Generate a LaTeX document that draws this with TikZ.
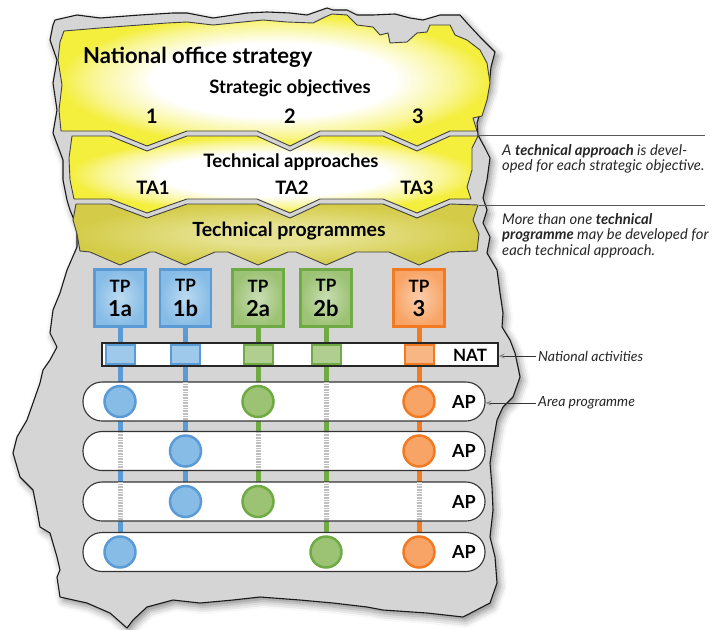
\documentclass[tikz,border=0pt]{standalone}
\usepackage{fontspec}
\setmainfont{Lato}
\usetikzlibrary{arrows.meta,shadows.blur}
\pgfdeclarelayer{back}\pgfdeclarelayer{mid}
\pgfsetlayers{back,mid,main}
\definecolor{yel}{HTML}{F4EE3C}
\definecolor{olivein}{HTML}{E6E291}
\definecolor{oliveout}{HTML}{D4CC48}
\definecolor{mapgray}{HTML}{D5D5D5}
\definecolor{bluef}{HTML}{86BCE6}
\definecolor{bluel}{HTML}{5B9BD5}
\definecolor{greenf}{HTML}{9CC274}
\definecolor{greenl}{HTML}{6FAA44}
\definecolor{orangef}{HTML}{F8A466}
\definecolor{orangel}{HTML}{F27A22}
\pgfdeclareradialshading{yglow}{\pgfpoint{0bp}{0bp}}{color(0bp)=(white); color(14bp)=(white); color(21bp)=(yel!55!white); color(25bp)=(yel); color(50bp)=(yel)}
\pgfdeclareradialshading{oglow}{\pgfpoint{0bp}{0bp}}{color(0bp)=(olivein); color(8bp)=(olivein); color(25bp)=(oliveout); color(50bp)=(oliveout)}
\tikzset{
  mapshape/.style={fill=mapgray, draw=black!90, line width=1.1pt, line join=round},
  band/.style={draw=black!75, line width=0.9pt, line join=round},
  tpbox/.style={draw=#1l, line width=2.6pt, shading=radial, inner color=#1f!55!white, outer color=#1f, minimum width=51pt, minimum height=57pt, inner sep=0pt, align=center, font=\bfseries},
  stem/.style={draw=#1l, line width=5pt},
  natsq/.style={draw=#1l, line width=2pt, fill=#1f!80!white, minimum width=29pt, minimum height=18.5pt, inner sep=0pt},
  apcirc/.style={circle, draw=#1l, line width=2.5pt, fill=#1f, minimum size=31pt, inner sep=0pt},
  aprow/.style={draw=black!80, line width=1.1pt, fill=white, rounded corners=19pt, minimum width=402pt, minimum height=39pt, inner sep=0pt},
  natbar/.style={draw=black!85, line width=1.5pt, fill=white, minimum width=396pt, minimum height=23pt, inner sep=0pt},
  dotseg/.style={draw=black!25, line width=5pt, dash pattern=on 0.8pt off 0.8pt, shorten <=1pt, shorten >=1pt},
  title/.style={font=\bfseries\fontsize{#1}{#1}\selectfont, inner sep=0pt},
  anno/.style={font=\itshape\fontsize{14.8}{15.5}\selectfont, inner sep=2pt, text=black!85},
  annlab/.style={font=\itshape\fontsize{14}{16}\selectfont, inner sep=2pt, text=black!85},
  annarrow/.style={draw=black!80, line width=0.8pt, -{Stealth[length=6pt,width=5pt,color=black!45]}},
  sepline/.style={draw=black!65, line width=0.9pt}
}
\newcommand{\tptext}[1]{{\fontsize{17}{17}\selectfont TP}\\[7pt]{\fontsize{22}{22}\selectfont #1}}
\begin{document}
\begin{tikzpicture}[x=1pt,y=-1pt]
\useasboundingbox (0,0) rectangle (717,629);
\begin{pgfonlayer}{back}
% map
\draw[mapshape, blur shadow={shadow xshift=3pt, shadow yshift=-4pt, shadow blur radius=7pt, shadow opacity=45}]
 (55,20) -- (77,15) -- (100,18) -- (140,15) -- (173,13) -- (187,13) -- (213,18) -- (247,13) -- (267,12) -- (290,13) -- (307,15) -- (327,8) -- (333,10) -- (347,10) -- (357,15) -- (373,15) -- (395,14) -- (410,18) -- (423,20) -- (440,15) -- (460,15) -- (467,23) -- (480,37) -- (495,52) -- (491,67) -- (489,87) -- (481,110) -- (477,123) -- (478,135) -- (485,148) -- (490,158) -- (487,180) -- (483,198) -- (487,210) -- (483,223) -- (490,237) -- (487,253) -- (497,270) -- (500,293) -- (503,313) -- (502,327) -- (510,340) -- (515,353) -- (518,367) -- (520,377) -- (513,397) -- (503,407) -- (497,420) -- (493,443) -- (490,463) -- (492,487) -- (493,510) -- (490,537) -- (495,557) -- (497,583) -- (490,603) -- (463,617) -- (427,613) -- (383,610) -- (367,607) -- (333,603) -- (300,600) -- (260,597) -- (233,600) -- (200,603) -- (173,600) -- (147,607) -- (133,620) -- (127,628) -- (110,613) -- (87,603) -- (60,597) -- (57,577) -- (60,570) -- (57,557) -- (50,533) -- (40,527) -- (37,510) -- (33,490) -- (20,477) -- (13,453) -- (17,437) -- (27,420) -- (33,403) -- (40,383) -- (43,370) -- (50,360) -- (57,347) -- (50,333) -- (53,310) -- (60,293) -- (67,270) -- (77,247) -- (77,227) -- (70,210) -- (67,200) -- (63,180) -- (63,160) -- (53,133) -- (57,110) -- (53,83) -- (57,60) -- (50,40) -- (53,25) -- cycle;
% band 1
\draw[band, shading=yglow]
 (64,31) -- (100,28) -- (140,25) -- (167,23) -- (187,22) -- (213,25) -- (233,23) -- (263,20) -- (287,22) -- (313,23) -- (325,17) -- (332,14) -- (347,15) -- (357,25) -- (373,27) -- (380,35) -- (388,33) -- (390,43) -- (407,42) -- (417,33) -- (427,32) -- (430,25) -- (450,25) -- (455,35) -- (467,40) -- (480,50) -- (487,63) -- (490,83) -- (487,100) -- (482,116) -- (473,118) -- (477,131)
 -- (450,131) -- (417,146) -- (383,131) -- (320,131) -- (290,146) -- (257,131) -- (187,131) -- (147,146) -- (110,131) -- (61,131) -- (59,110) -- (62,85) -- (58,60) -- (60,42) -- cycle;
% band 2
\draw[band, shading=yglow]
 (72,136) -- (110,136) -- (147,151) -- (187,136) -- (257,136) -- (290,151) -- (320,136) -- (383,136) -- (417,151) -- (450,136) -- (478,136) -- (472,148) -- (472,170) -- (467,187) -- (471,199)
 -- (450,199) -- (417,213) -- (383,199) -- (320,199) -- (290,213) -- (257,199) -- (187,199) -- (147,213) -- (110,199) -- (74,199) -- (70,180) -- (69,158) -- cycle;
% band 3
\draw[band, shading=oglow]
 (76,204) -- (110,204) -- (147,218) -- (187,204) -- (257,204) -- (290,218) -- (320,204) -- (383,204) -- (417,218) -- (450,204) -- (478,205) -- (473,220) -- (479,234) -- (477,251)
 -- (449,252) -- (419,265) -- (389,252) -- (356,252) -- (326,265) -- (296,252) -- (288,252) -- (258,265) -- (228,252) -- (215,252) -- (185,265) -- (155,252) -- (150,252) -- (120,265) -- (90,252) -- (80,251) -- (77,234) -- (73,220) -- cycle;
\end{pgfonlayer}

% texts in bands
\node[title=22, anchor=base west] (nos) at (83,63) {National office strategy};
\node[title=18.5, anchor=base] (so) at (290,93) {Strategic objectives};
\node[title=20, anchor=base] (so1) at (152,123) {1};
\node[title=20, anchor=base] (so2) at (290,123) {2};
\node[title=20, anchor=base] (so3) at (418,123) {3};
\node[title=18.5, anchor=base] (ta) at (291,167) {Technical approaches};
\node[title=18.5, anchor=base] (ta1) at (153,194) {TA1};
\node[title=18.5, anchor=base] (ta2) at (292,194) {TA2};
\node[title=18.5, anchor=base] (ta3) at (417,194) {TA3};
\node[title=19.5, anchor=base] (tprog) at (289,236) {Technical programmes};

% annotations
\draw[sepline] (477,135) -- (705,135);
\draw[sepline] (479,205) -- (705,205);
\node[anno, anchor=north west, align=left] (ann1) at (500,142) {A \textbf{technical approach} is devel-\\oped for each strategic objective.};
\node[anno, anchor=north west, align=left] (ann2) at (500,211) {More than one \textbf{technical}\\\textbf{programme} may be developed for\\each technical approach.};

% TP boxes
\node[tpbox=blue] (tp1a) at (120,298) {\tptext{1a}};
\node[tpbox=blue] (tp1b) at (185.5,298) {\tptext{1b}};
\node[tpbox=green] (tp2a) at (258,298) {\tptext{2a}};
\node[tpbox=green] (tp2b) at (326,298) {\tptext{2b}};
\node[tpbox=orange] (tp3) at (419,298) {\tptext{3}};

% NAT bar and AP rows
\node[natbar] (nat) at (300,354.5) {};
\node[title=17, anchor=center] (natt) at (470,355) {NAT};
\node[aprow] (r1) at (284,401.5) {};
\node[aprow] (r2) at (284,451) {};
\node[aprow] (r3) at (284,501.5) {};
\node[aprow] (r4) at (284,552) {};
\foreach \r in {1,2,3,4} \node[title=18, anchor=center] (apt\r) at (464,0|-r\r) {AP};

% NAT squares
\node[natsq=blue] (s1a) at (tp1a |- nat) {};
\node[natsq=blue] (s1b) at (tp1b |- nat) {};
\node[natsq=green] (s2a) at (tp2a |- nat) {};
\node[natsq=green] (s2b) at (tp2b |- nat) {};
\node[natsq=orange] (s3) at (tp3 |- nat) {};

% circles
\node[apcirc=blue] (c1a1) at (tp1a |- r1) {};
\node[apcirc=blue] (c1a4) at (tp1a |- r4) {};
\node[apcirc=blue] (c1b2) at (tp1b |- r2) {};
\node[apcirc=blue] (c1b3) at (tp1b |- r3) {};
\node[apcirc=green] (c2a1) at (tp2a |- r1) {};
\node[apcirc=green] (c2a3) at (tp2a |- r3) {};
\node[apcirc=green] (c2b4) at (tp2b |- r4) {};
\node[apcirc=orange] (c31) at (tp3 |- r1) {};
\node[apcirc=orange] (c32) at (tp3 |- r2) {};
\node[apcirc=orange] (c34) at (tp3 |- r4) {};

% stems
\begin{pgfonlayer}{mid}
\draw[stem=blue] (tp1a.south) -- (c1a4.center);
\draw[stem=blue] (tp1b.south) -- (c1b3.center);
\draw[stem=green] (tp2a.south) -- (c2a3.center);
\draw[stem=green] (tp2b.south) -- (c2b4.center);
\draw[stem=orange] (tp3.south) -- (c34.center);
\end{pgfonlayer}

% dotted passages through rows without a circle
\draw[dotseg] (r2.north -| tp1a.south) -- (r2.south -| tp1a.south);
\draw[dotseg] (r3.north -| tp1a.south) -- (r3.south -| tp1a.south);
\draw[dotseg] (r1.north -| tp1b.south) -- (r1.south -| tp1b.south);
\draw[dotseg] (r2.north -| tp2a.south) -- (r2.south -| tp2a.south);
\draw[dotseg] (r1.north -| tp2b.south) -- (r1.south -| tp2b.south);
\draw[dotseg] (r2.north -| tp2b.south) -- (r2.south -| tp2b.south);
\draw[dotseg] (r3.north -| tp2b.south) -- (r3.south -| tp2b.south);
\draw[dotseg] (r3.north -| tp3.south) -- (r3.south -| tp3.south);

% labels with arrows
\node[annlab, anchor=west] (natlab) at (536,356) {National activities};
\draw[annarrow] (natlab.west) -- (natlab.west -| nat.east);
\node[annlab, anchor=west] (aplab) at (536,403) {Area programme};
\draw[annarrow] (aplab.west) -- (aplab.west -| r1.east);
\end{tikzpicture}
\end{document}
